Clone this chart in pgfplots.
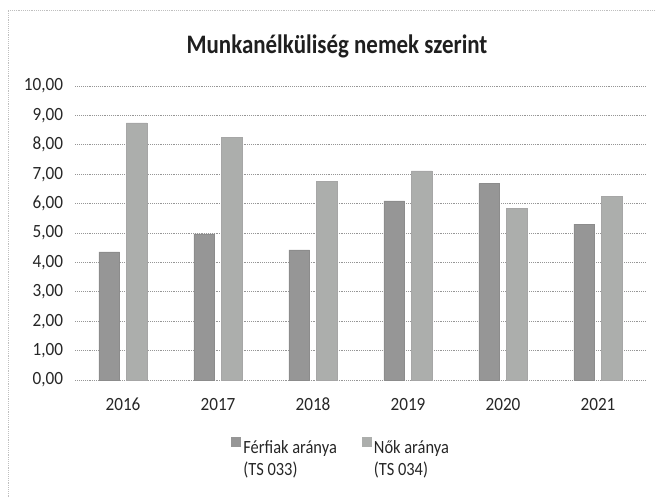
\documentclass[border=0pt]{standalone}
\usepackage{pgfplots}
\pgfplotsset{compat=1.18}
\usepackage{fontspec}
\setmainfont{Carlito}
\definecolor{ferfi}{RGB}{150,150,150}
\definecolor{no}{RGB}{172,174,172}
\definecolor{racs}{RGB}{150,150,150}
\newcommand{\lentry}[2]{\scalebox{0.88}[1]{\fontsize{14}{16.5}\selectfont\begin{tabular}[t]{@{}l@{}}#1\\#2\end{tabular}}}

\begin{document}
\begin{tikzpicture}[x=0.75pt,y=0.75pt]
  % canvas as large as the scan
  \path[use as bounding box] (0,0) rectangle (656,497);
  \draw[gray!50, densely dotted, line width=0.4pt] (8,0) -- (8,487) -- (656,487);

  \node[anchor=base, xscale=0.86, font=\fontsize{20}{24}\selectfont\bfseries, text=black!88] at (337,443.7) {Munkanélküliség nemek szerint};

  \begin{axis}[
    at={(56.625pt,87.75pt)}, anchor=south west,
    scale only axis,
    width=427.5pt, height=220.5pt,
    xmin=-0.5, xmax=5.5,
    ymin=0, ymax=10,
    ytick={0,1,...,10},
    xtick={0,...,5},
    xticklabels={2016,2017,2018,2019,2020,2021},
    axis line style={draw=none},
    major tick length=0pt,
    ymajorgrids,
    grid style={racs, densely dotted, line width=0.5pt},
    yticklabel={\pgfmathprintnumber[fixed,fixed zerofill,precision=2,use comma]{\tick}},
    /pgf/number format/assume math mode=true,
    ticklabel style={font=\fontsize{14}{16}\selectfont, text=black!85, xscale=0.92, inner sep=0pt},
    yticklabel style={anchor=east, xshift=-10pt},
    xticklabel style={anchor=base, yshift=-22.5pt},
    ybar, bar width=0.22,
    legend style={
      at={(0.2728,-0.1925)}, anchor=north west, draw=none, fill=none,
      inner sep=0pt, outer sep=0pt,
      legend columns=2,
      nodes={inner sep=0pt, text=black!85},
      /tikz/every odd column/.append style={column sep=2.25pt},
      /tikz/every even column/.append style={column sep=18.5pt}
    },
  ]
    \addplot[ybar, bar shift=-0.145, fill=ferfi, draw=black!45, line width=0.3pt,
      legend image code/.code={\fill[ferfi] (0pt,0.75pt) rectangle (6.75pt,7.5pt);}]
      coordinates {(0,4.36) (1,4.97) (2,4.43) (3,6.09) (4,6.68) (5,5.30)};
    \addlegendentry{\lentry{Férfiak aránya}{(TS 033)}}
    \addplot[ybar, bar shift=0.145, fill=no, draw=black!35, line width=0.3pt,
      legend image code/.code={\fill[no] (0pt,0.75pt) rectangle (6.75pt,7.5pt);}]
      coordinates {(0,8.75) (1,8.25) (2,6.75) (3,7.11) (4,5.83) (5,6.25)};
    \addlegendentry{\lentry{Nők aránya}{(TS 034)}}
  \end{axis}
\end{tikzpicture}
\end{document}
